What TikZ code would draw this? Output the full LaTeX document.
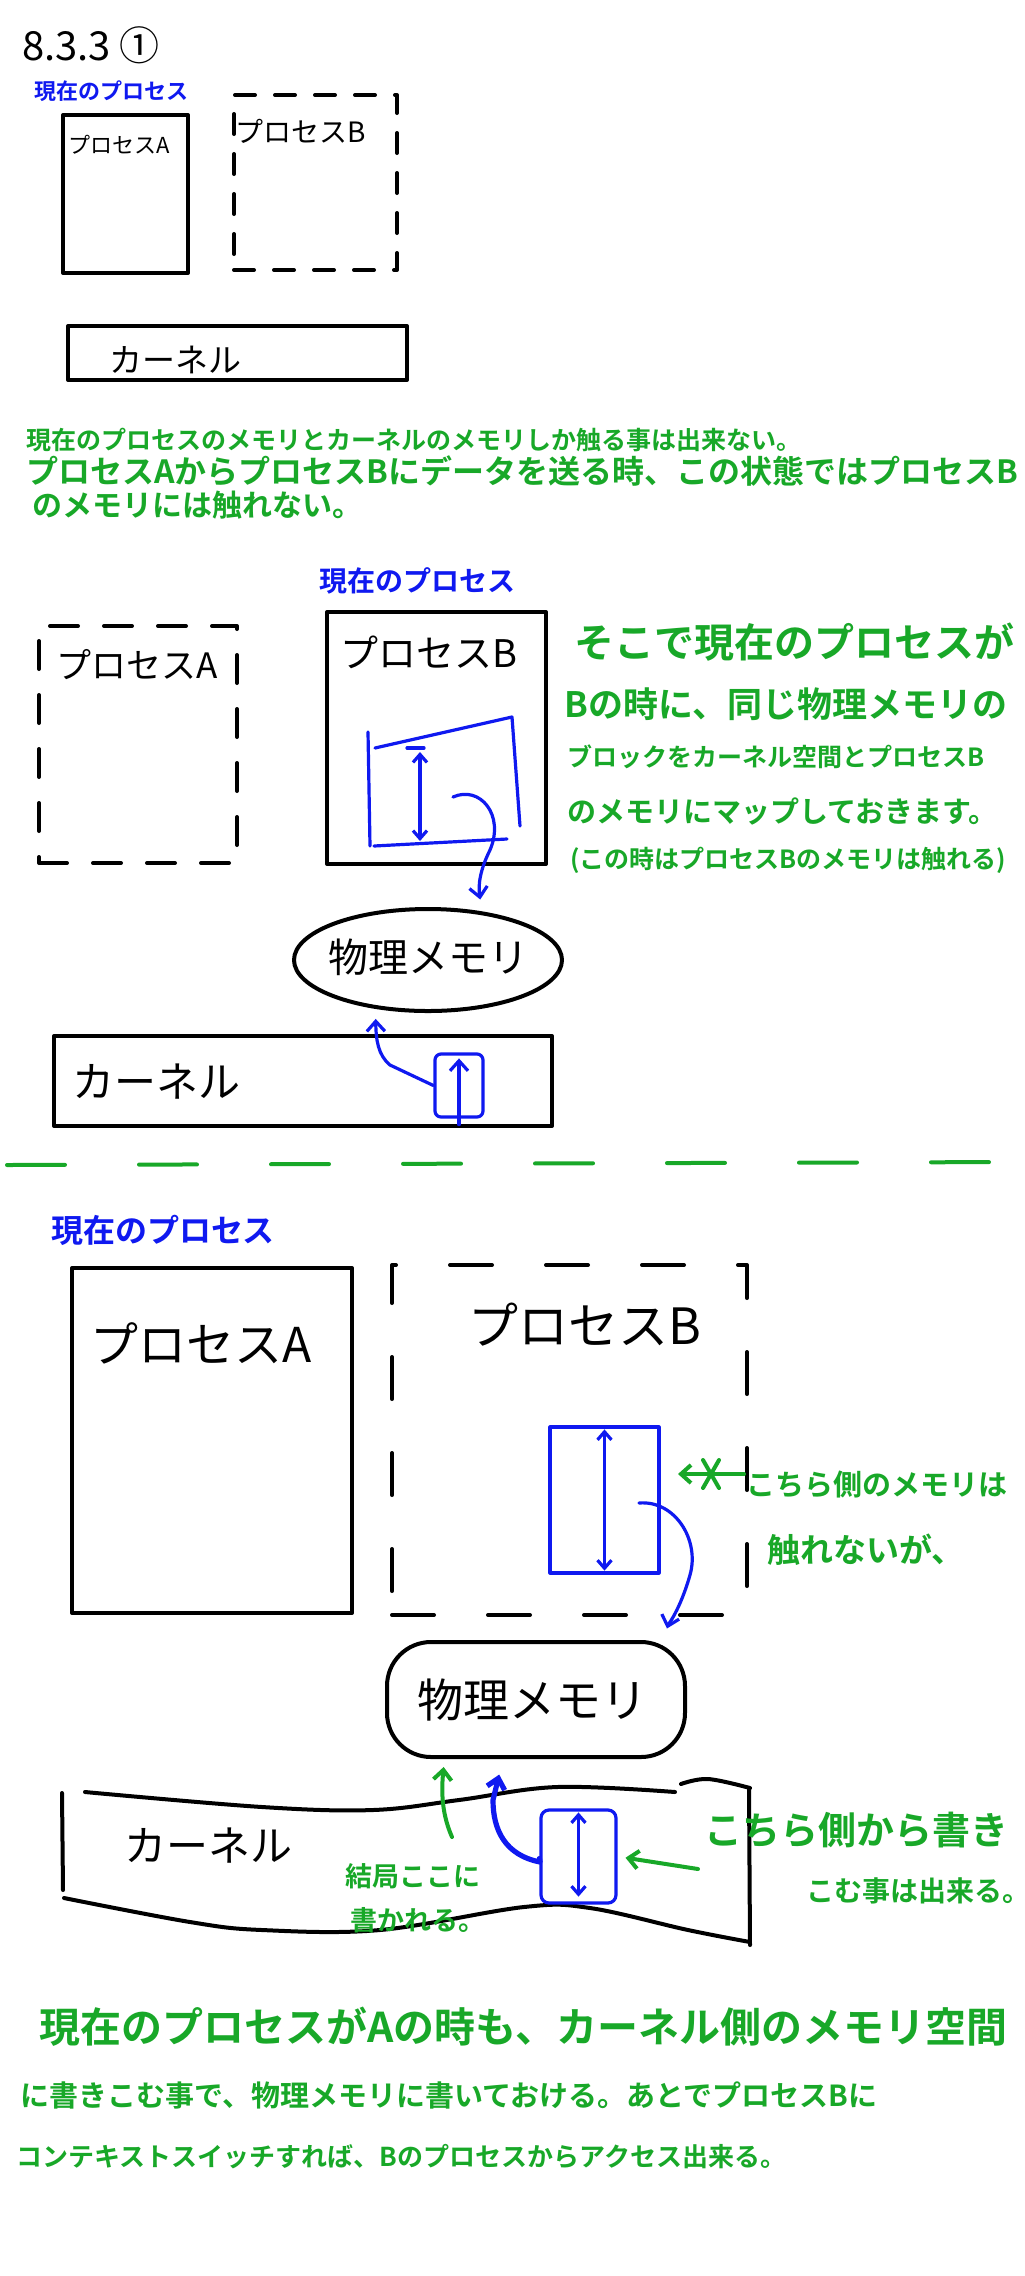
\documentclass[tikz,border=0pt]{standalone}
\usepackage{fontspec}
\setmainfont{Noto Sans CJK JP}[BoldFont={Noto Sans CJK JP Bold}]
\usetikzlibrary{arrows.meta,shapes.geometric}
\definecolor{hgreen}{RGB}{24,168,40}
\definecolor{hblue}{RGB}{15,25,240}
\newcommand{\fsz}[1]{\fontsize{#1}{#1}\selectfont}
\tikzset{
  hpen/.style={line width=2pt, line cap=round, line join=round},
  procbox/.style={hpen, draw=black, rectangle, inner sep=0pt},
  dprocbox/.style={procbox, dash pattern=on 10pt off 10pt},
  btxt/.style={text=black, inner sep=0pt},
  gtxt/.style={text=hgreen, inner sep=0pt, anchor=west},
  bltxt/.style={text=hblue, inner sep=0pt},
  bpen/.style={line width=1.6pt, draw=hblue, line cap=round, line join=round},
  gpen/.style={line width=2pt, draw=hgreen, line cap=round, line join=round},
  barbtip/.style={-{Straight Barb[length=5pt,width=9pt]}},
  dbarb/.style={{Straight Barb[length=4pt,width=7pt]}-{Straight Barb[length=4pt,width=7pt]}},
}
\begin{document}
\begin{tikzpicture}[x=0.5pt,y=-0.5pt]
\path[use as bounding box, fill=white] (0,0) rectangle (1024,2276);

% ---------------- Section 1 ----------------
\node[btxt, font=\fsz{20pt}] (title) at (91,45) {8.3.3 ①};
\node[bltxt, font=\fsz{11pt}\bfseries] (cur1) at (111,91) {現在のプロセス};
\node[procbox, minimum width=62.5pt, minimum height=79pt] (pa1) at (125.5,194) {};
\node[btxt, font=\fsz{11pt}] (pa1t) at (119,145) {プロセスA};
\node[dprocbox, minimum width=81.5pt, minimum height=87.5pt] (pb1) at (315.5,182.5) {};
\node[btxt, font=\fsz{14pt}] (pb1t) at (301,131) {プロセスB};
\node[procbox, minimum width=169.5pt, minimum height=27pt] (k1) at (237.5,353) {};
\node[btxt, font=\fsz{16.5pt}] (k1t) at (175,360) {カーネル};

\node[gtxt, font=\fsz{12.5pt}\bfseries] (g1a) at (26,440) {現在のプロセスのメモリとカーネルのメモリしか触る事は出来ない。};
\node[gtxt, font=\fsz{16pt}\bfseries] (g1b) at (26,471) {プロセスAからプロセスBにデータを送る時、この状態ではプロセスB};
\node[gtxt, font=\fsz{15pt}\bfseries] (g1c) at (32,505) {のメモリには触れない。};

% ---------------- Section 2 ----------------
\node[bltxt, font=\fsz{14pt}\bfseries] (cur2) at (417,581) {現在のプロセス};
\node[procbox, dash pattern=on 14pt off 13pt, minimum width=99pt, minimum height=118.5pt] (pa2) at (138,744.5) {};
\node[btxt, font=\fsz{17.5pt}] (pa2t) at (137,665) {プロセスA};
\node[procbox, minimum width=109.5pt, minimum height=126pt] (pb2) at (436.5,738) {};
\node[btxt, font=\fsz{19pt}] (pb2t) at (429,652) {プロセスB};
% blue block inside B
\draw[bpen] (368,732) -- (370,846);
\draw[bpen] (375,748) -- (512,717) -- (520,826);
\draw[bpen] (374,846) -- (507,839);
\coordinate (r2top) at (420,752);
\coordinate (r2bot) at (420,841);
\draw[bpen] (407,748) -- (424,748);
\draw[bpen, dbarb] (r2top) -- (r2bot);
\coordinate (c2s) at (453,797);

\node[procbox, ellipse, minimum width=134pt, minimum height=51pt] (pm2) at (428,960) {};
\node[btxt, font=\fsz{20pt}] (pm2t) at (428,957) {物理メモリ};
\draw[bpen, barbtip, shorten >=6pt] (c2s) .. controls (480,785) and (505,815) .. (490,850) .. controls (480,870) and (478,885) .. (pm2.42);

\node[procbox, minimum width=249pt, minimum height=45pt] (k2) at (303,1081) {};
\node[btxt, font=\fsz{21pt}] (k2t) at (156,1082) {カーネル};
\node[bpen, draw, rectangle, rounded corners=3pt, minimum width=24pt, minimum height=31.5pt, inner sep=0pt] (sr2) at (459,1085.5) {};
\draw[bpen, barbtip] ([yshift=-3pt]sr2.south) -- ([yshift=-3pt]sr2.north);
\draw[bpen, barbtip, shorten >=5pt] (sr2.west) -- (390,1065) .. controls (378,1055) and (376,1040) .. (pm2.223);

\node[gtxt, font=\fsz{20pt}\bfseries] (g2a) at (574,642) {そこで現在のプロセスが};
\node[gtxt, font=\fsz{17.5pt}\bfseries] (g2b) at (564,704) {Bの時に、同じ物理メモリの};
\node[gtxt, font=\fsz{12.5pt}\bfseries] (g2c) at (567,757) {ブロックをカーネル空間とプロセスB};
\node[gtxt, font=\fsz{14.5pt}\bfseries] (g2d) at (567,811) {のメモリにマップしておきます。};
\node[gtxt, font=\fsz{12.5pt}\bfseries] (g2e) at (570,860) {(この時はプロセスBのメモリは触れる)};

% ---------------- separator ----------------
\draw[gpen, dash pattern=on 29pt off 37pt] (7,1165) -- (1024,1162);

% ---------------- Section 3 ----------------
\node[bltxt, font=\fsz{16pt}\bfseries] (cur3) at (163,1230) {現在のプロセス};
\node[procbox, minimum width=140pt, minimum height=172.5pt] (pa3) at (212,1440.5) {};
\node[btxt, font=\fsz{24pt}] (pa3t) at (201,1343) {プロセスA};
\node[procbox, dash pattern=on 21pt off 27pt, minimum width=177.5pt, minimum height=175pt] (pb3) at (569.5,1440) {};
\node[btxt, font=\fsz{25pt}] (pb3t) at (585,1325) {プロセスB};
\node[bpen, draw, rectangle, minimum width=54.5pt, minimum height=73pt, inner sep=0pt] (r3) at (604.5,1500) {};
\draw[bpen, dbarb] ([yshift=-2pt]r3.north) -- ([yshift=2pt]r3.south);
\coordinate (c3s) at (639,1503);

\coordinate (nx) at (744,1474);
\coordinate (nxe) at (678,1474);
\draw[gpen, barbtip] (nx) -- (nxe);
\draw[gpen] (703,1460) -- (719,1488) (719,1460) -- (703,1488);
\node[gtxt, font=\fsz{14.5pt}\bfseries] (g3a) at (746,1484) {こちら側のメモリは};
\node[gtxt, font=\fsz{16.5pt}\bfseries] (g3b) at (767,1550) {触れないが、};

\node[procbox, rounded corners=22pt, minimum width=149pt, minimum height=57.5pt] (pm3) at (536,1699.5) {};
\node[btxt, font=\fsz{23pt}] (pm3t) at (532,1700) {物理メモリ};
\draw[bpen, barbtip, shorten >=6pt] (c3s) .. controls (675,1500) and (700,1540) .. (690,1575) .. controls (680,1610) and (668,1625) .. (pm3.25);

% wavy kernel
\draw[hpen] plot[smooth, tension=0.6] coordinates {(85,1792) (262,1807) (373,1810) (459,1800) (557,1787) (675,1792)};
\draw[hpen] plot[smooth, tension=0.6] coordinates {(681,1784) (708,1779) (750,1788)};
\draw[hpen] (62,1793) -- (63,1890);
\draw[hpen] (749,1788) -- (750,1945);
\draw[hpen] plot[smooth, tension=0.6] coordinates {(64,1898) (190,1922) (262,1930) (380,1930) (524,1907) (590,1908) (688,1930) (750,1942)};
\node[btxt, font=\fsz{21pt}] (k3t) at (208,1846) {カーネル};

\node[bpen, draw, rectangle, rounded corners=4pt, minimum width=37.5pt, minimum height=46.5pt, inner sep=0pt] (sr3) at (578.5,1856.5) {};
\draw[bpen, dbarb] ([yshift=-2pt]sr3.north) -- ([yshift=4pt]sr3.south);
\draw[bpen, line width=2.6pt, barbtip, shorten >=8pt] ([yshift=-1pt]sr3.west) -- (540,1862) .. controls (505,1855) and (493,1830) .. (493,1800) -- (pm3.241);
\coordinate (gk) at (452,1837);
\draw[gpen, barbtip, shorten >=4pt] (gk) .. controls (440,1810) and (442,1785) .. (pm3.213);
\coordinate (ga) at (698,1869);
\draw[gpen, barbtip, shorten >=4pt] (ga) -- (sr3.east);

\node[gtxt, font=\fsz{13.5pt}\bfseries] (g3c) at (345,1876) {結局ここに};
\node[gtxt, font=\fsz{13.5pt}\bfseries] (g3d) at (350,1920) {書かれる。};
\node[gtxt, font=\fsz{19pt}\bfseries] (g3e) at (704,1830) {こちら側から書き};
\node[gtxt, font=\fsz{14pt}\bfseries] (g3f) at (806,1891) {こむ事は出来る。};

% ---------------- bottom text ----------------
\node[gtxt, font=\fsz{20.5pt}\bfseries] (b1) at (39,2027) {現在のプロセスがAの時も、カーネル側のメモリ空間};
\node[gtxt, font=\fsz{14.5pt}\bfseries] (b2) at (20,2095) {に書きこむ事で、物理メモリに書いておける。あとでプロセスBに};
\node[gtxt, font=\fsz{13pt}\bfseries] (b3) at (16,2157) {コンテキストスイッチすれば、Bのプロセスからアクセス出来る。};
\end{tikzpicture}
\end{document}
